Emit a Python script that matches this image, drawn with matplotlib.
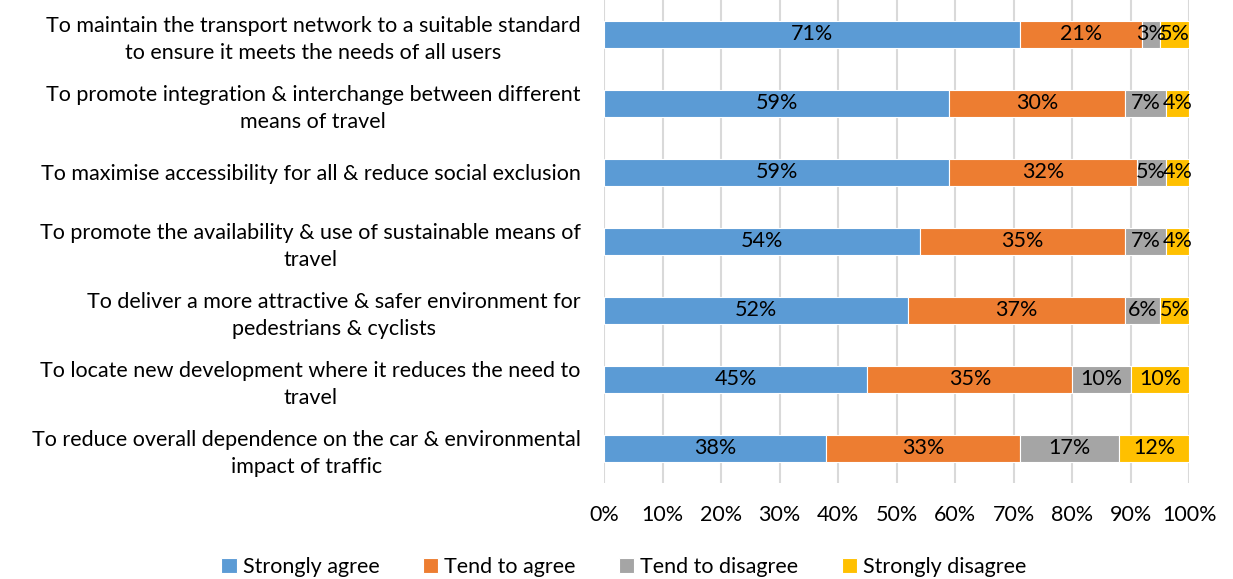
import numpy as np
import matplotlib.pyplot as plt

plt.rcParams['font.family'] = ['Lato', 'DejaVu Sans']

# categories, top to bottom
categories = [
    "To maintain the transport network to a suitable standard\nto ensure it meets the needs of all users",
    "To promote integration & interchange between different\nmeans of travel",
    "To maximise accessibility for all & reduce social exclusion",
    "To promote the availability & use of sustainable means of\ntravel",
    "To deliver a more attractive & safer environment for\npedestrians & cyclists",
    "To locate new development where it reduces the need to\ntravel",
    "To reduce overall dependence on the car & environmental\nimpact of traffic",
]
series_names = ["Strongly agree", "Tend to agree", "Tend to disagree", "Strongly disagree"]
strongly_agree = [71, 59, 59, 54, 52, 45, 38]
tend_agree = [21, 30, 32, 35, 37, 35, 33]
tend_disagree = [3, 7, 5, 7, 6, 10, 17]
strongly_disagree = [5, 4, 4, 4, 5, 10, 12]
colors = ['#5B9BD5', '#ED7D31', '#A5A5A5', '#FFC000']

fig = plt.figure(figsize=(12.33, 5.79), dpi=100)
ax = fig.add_axes([0.49, 0.166, 0.4745, 0.834])

y = np.arange(len(categories))
left = np.zeros(len(categories))
for name, vals, c in zip(series_names, [strongly_agree, tend_agree, tend_disagree, strongly_disagree], colors):
    vals = np.array(vals, dtype=float)
    ax.barh(y, vals, left=left, height=0.4, color=c, edgecolor='white', linewidth=0.8, label=name, zorder=3)
    # value labels in the middle of each segment
    for yi, l, v in zip(y, left, vals):
        ax.text(l + v / 2, yi, f"{int(v)}%", ha='center', va='center', fontsize=15.5, color='black', zorder=4)
    left += vals

ax.set_xlim(0, 100)
ax.set_ylim(len(categories) - 0.5, -0.5)
ax.set_xticks(np.arange(0, 101, 10))
ax.set_xticklabels([f"{t}%" for t in range(0, 101, 10)], fontsize=15.5)
ax.set_yticks(y)
ax.set_yticklabels(categories, fontsize=15.5, multialignment='center', linespacing=1.4)
ax.tick_params(axis='both', length=0)
ax.tick_params(axis='y', pad=17)
ax.tick_params(axis='x', pad=16)
ax.grid(axis='x', color='#D9D9D9', linewidth=1.5, zorder=0)
for s in ax.spines.values():
    s.set_visible(False)

fig.legend(*ax.get_legend_handles_labels(), loc='center', bbox_to_anchor=(624 / 1233, 1 - 567 / 579), ncol=4,
           frameon=False, fontsize=15.5, handlelength=0.7, handleheight=0.7, handletextpad=0.3, columnspacing=2.0)

fig.savefig('out.png', dpi=100)
